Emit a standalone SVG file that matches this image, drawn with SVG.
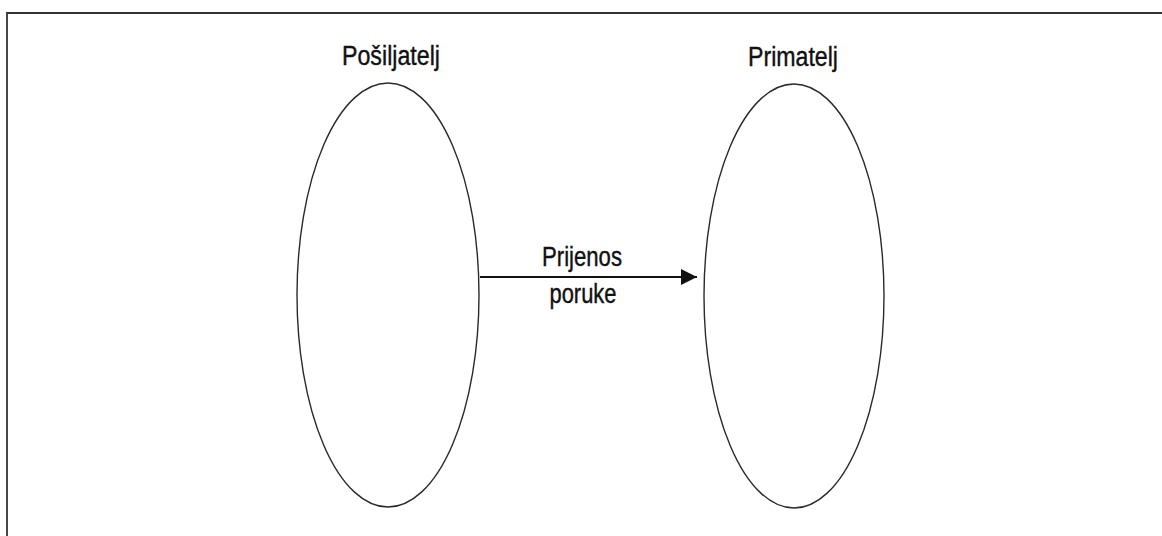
<svg xmlns="http://www.w3.org/2000/svg" width="1162" height="536" viewBox="0 0 1162 536">
<defs>
<style>
.frame{fill:none;stroke:#333;stroke-width:1.8}
.node{fill:none;stroke:#2a2a2a;stroke-width:1.4}
.lbl{font-family:"Liberation Sans",Arial,sans-serif;font-size:27px;fill:#111;stroke:#111;stroke-width:0.4;text-anchor:middle}
.edge{stroke:#111;stroke-width:2.2;fill:none}
</style>
<marker id="arr" viewBox="0 0 16 16" refX="16" refY="8" markerWidth="16" markerHeight="16" markerUnits="userSpaceOnUse" orient="auto">
<path d="M0,0 L16,8 L0,16 Z" fill="#111"/>
</marker>
</defs>
<rect width="1162" height="536" fill="#fff"/>
<path class="frame" d="M7,536 L7,13 L1162,13"/>
<g id="sender">
<ellipse class="node" cx="388" cy="295" rx="91" ry="212"/>
<text class="lbl" x="391" y="65" textLength="98" lengthAdjust="spacingAndGlyphs">Pošiljatelj</text>
</g>
<g id="receiver">
<ellipse class="node" cx="794" cy="296" rx="90" ry="212"/>
<text class="lbl" x="793" y="66" textLength="90" lengthAdjust="spacingAndGlyphs">Primatelj</text>
</g>
<g id="connectors">
<line class="edge" x1="480" y1="277" x2="697" y2="277" marker-end="url(#arr)"/>
<text class="lbl" x="582" y="266" textLength="80" lengthAdjust="spacingAndGlyphs">Prijenos</text>
<text class="lbl" x="583" y="303" textLength="67" lengthAdjust="spacingAndGlyphs">poruke</text>
</g>
</svg>
